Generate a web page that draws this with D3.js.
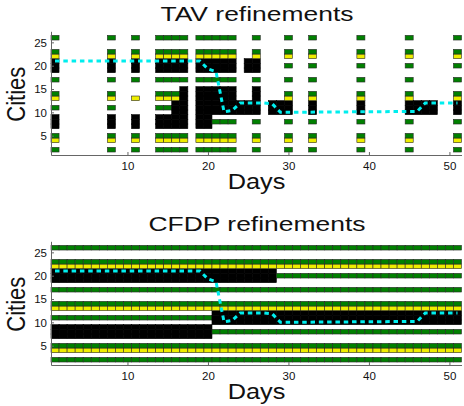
<!DOCTYPE html>
<html>
<head>
<meta charset="utf-8">
<script src="https://cdn.jsdelivr.net/npm/d3@7"></script>
<style>
  body { margin: 0; background: #fff; }
  text { font-family: "Liberation Sans", Arial, Helvetica, sans-serif; fill: #111; }
</style>
</head>
<body>
<div id="vis"></div>
<script>
// Patrones de una columna: un caracter por ciudad (1..26)
// "." vacio, "v" verde, "a" amarillo, "n" negro
const PATRONES_ID = ["A", "B", "C", "D", "E", "F", "G", "H", "I"];
const PATRONES_CIUDADES = [
    ".v.av.nnn.v.av..v.nnnav..v", // A
    ".v.av..v.nnnav..v..v.av..v", // B
    ".v.av.nnn...a...v.nnnav..v", // C
    ".v.av.nnnnnnav..v.nnnav..v", // D
    ".v.av.nnnnnnnnn.v.nnnav..v", // E
    ".v.av..v.nnnnnn.v.nnnav..v", // F
    ".........nnn..............", // G
    ".........nnn......nnn.....", // H
    ".v.av..v.nnnav..v.nnnav..v", // I
];

// TAV: solo algunos dias tienen refinamientos
const TAV_DIAS = [1, 8, 11, 14, 15, 16, 17, 19, 20, 21, 22, 23, 24, 25, 26, 28, 29, 30, 33, 39, 45, 46, 47, 48, 51];
const TAV_PATRON = ["A", "A", "C", "A", "A", "D", "E", "E", "E", "F", "F", "F", "G", "H", "F", "G", "G", "B", "B", "B", "B", "G", "G", "G", "B"];

// CFDP: todos los dias 1..51 (un caracter por dia)
const CFDP_PATRON = "AAAAAAAAAAAAAAAAAAAAIIIIIIIIBBBBBBBBBBBBBBBBBBBBBBB";

// Trayectoria cyan (dia, ciudad)
const LINEA_DIAS = [1, 19, 20, 21, 22, 23, 24, 27, 28, 29, 46, 47, 51];
const LINEA_CIUDAD = [21, 21, 19.3, 18.7, 10.1, 10.4, 12, 12, 11.8, 10, 10.2, 12, 12];

const TICKS_X = [10, 20, 30, 40, 50];
const TICKS_Y = [5, 10, 15, 20, 25];

const COLORES = { v: "#008000", a: "#eeee00", n: "#000000" };

const WIDTH = 464;
const HEIGHT = 406;

const SVG = d3.select("#vis").append("svg")
    .attr("width", WIDTH)
    .attr("height", HEIGHT);

const escalaX = d3.scaleLinear()
    .domain([0.5, 51.5])
    .range([51, 461.5]);

const tavColumnas = TAV_DIAS.map((d, i) => ({ dia: d, id: TAV_PATRON[i] }));
const cfdpColumnas = Array.from(CFDP_PATRON).map((id, i) => ({ dia: i + 1, id: id }));

function crearPanel(columnas, offset, titulo) {
    const escalaY = d3.scaleLinear()
        .domain([0.86, 27.37])
        .range([155 + offset, 31.3 + offset]);

    const celdas = columnas.flatMap(col => {
        const patron = PATRONES_CIUDADES[PATRONES_ID.indexOf(col.id)];
        return Array.from(patron)
            .map((s, i) => ({ dia: col.dia, ciudad: i + 1, estado: s }))
            .filter(c => c.estado !== ".");
    });

    const g = SVG.append("g");

    g.selectAll("rect.celda")
        .data(celdas)
        .join("rect")
        .attr("class", "celda")
        .attr("x", d => escalaX(d.dia - 0.5))
        .attr("width", d => escalaX(d.dia + 0.5) - escalaX(d.dia - 0.5))
        .attr("y", d => escalaY(d.ciudad + 0.5))
        .attr("height", d => escalaY(d.ciudad - 0.5) - escalaY(d.ciudad + 0.5))
        .attr("fill", d => COLORES[d.estado])
        .attr("stroke", d => d.estado === "n" ? "#000" : "#2a2a2a")
        .attr("stroke-width", 0.6);

    // linea punteada cyan
    const linea = d3.line()
        .x(d => escalaX(d[0]))
        .y(d => escalaY(d[1]));
    g.append("path")
        .datum(LINEA_DIAS.map((d, i) => [d, LINEA_CIUDAD[i]]))
        .attr("d", linea)
        .attr("fill", "none")
        .attr("stroke", "#00eeee")
        .attr("stroke-width", 3)
        .attr("stroke-dasharray", "4.5 3.8");

    // ejes (ticks hacia adentro)
    const ejeX = g.append("g")
        .attr("transform", `translate(0,${155 + offset})`)
        .call(d3.axisBottom(escalaX).tickValues(TICKS_X).tickSizeInner(-3).tickSizeOuter(0).tickPadding(7));
    const ejeY = g.append("g")
        .attr("transform", `translate(51,0)`)
        .call(d3.axisLeft(escalaY).tickValues(TICKS_Y).tickSizeInner(-3).tickSizeOuter(0).tickPadding(4));

    [ejeX, ejeY].forEach(eje => {
        eje.select(".domain").attr("stroke", "#666");
        eje.selectAll(".tick line").attr("stroke", "#666");
        eje.selectAll(".tick text")
            .attr("font-size", 11.5)
            .attr("font-family", "'Liberation Sans', Arial, sans-serif")
            .attr("fill", "#111");
    });

    // titulo y etiquetas
    g.append("text")
        .attr("transform", `translate(257,${20.7 + offset}) scale(1.26,1)`)
        .attr("text-anchor", "middle")
        .attr("font-size", 21)
        .text(titulo);

    g.append("text")
        .attr("transform", `translate(256.5,${189.3 + offset}) scale(1.15,1)`)
        .attr("text-anchor", "middle")
        .attr("font-size", 22)
        .text("Days");

    g.append("text")
        .attr("transform", `translate(24.5,${94.2 + offset}) scale(1.2,1) rotate(-90)`)
        .attr("text-anchor", "middle")
        .attr("font-size", 22)
        .text("Cities");
}

crearPanel(tavColumnas, 0, "TAV refinements");
crearPanel(cfdpColumnas, 210, "CFDP refinements");
</script>
</body>
</html>
